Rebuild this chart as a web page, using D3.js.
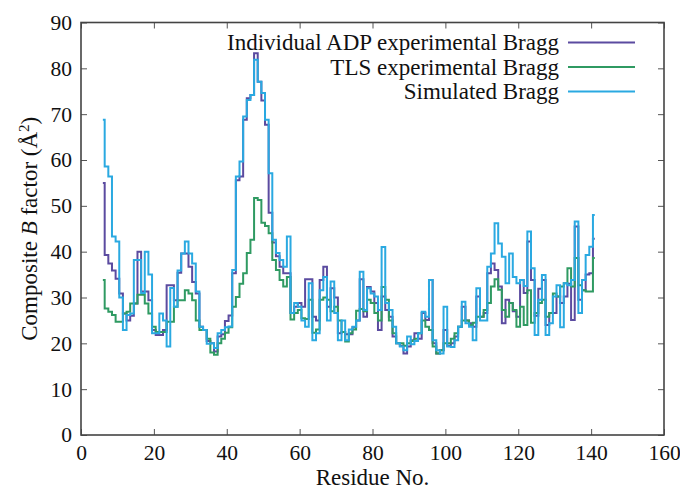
<!DOCTYPE html>
<meta charset="utf-8">
<html>
<head>
    <script src="https://d3js.org/d3.v7.min.js"></script>
    <style>
        body { margin: 0; background: #fff; }
        text { font-family: "Liberation Serif", "DejaVu Serif", serif; fill: #111; }
    </style>
</head>
<body>
    <div id="chart"></div>
    <script>
        // residue numbers 6..141
        var firstResidue = 6;

        // Individual ADP experimental Bragg
        var adpValues = [
            55, 39.3, 37.4, 35.9, 34.1, 30.9, 26.5, 25, 26, 28.7,
            40, 31.3, 31.3, 29.4, 22.9, 21.8, 21.8, 22.9, 32.7, 32.7,
            29.4, 35.4, 39.6, 39.6, 36.7, 33.4, 30.9, 23.6, 22.9, 20.5,
            20, 18.2, 21.5, 22, 24.9, 26.1, 35.3, 55.6, 56.4, 68.8,
            73.5, 74.2, 83.3, 77.1, 73, 67.7, 48.5, 42, 39, 36.7,
            35.3, 35.3, 26.6, 28, 28.8, 28, 34, 34, 25.8, 25,
            33.8, 36.7, 28, 32, 30, 22.2, 22.5, 22, 22, 23.5,
            25, 34, 25.8, 32.3, 31.3, 28.8, 22.9, 30.2, 27.3, 25.8,
            21.5, 20, 19.5, 17.8, 19.3, 20.7, 22.2, 21, 26.6, 25.1,
            33.8, 20, 17.8, 18.5, 22.9, 19.5, 20, 21.5, 23.6, 28,
            25, 24.4, 23.6, 30.2, 25.8, 26.6, 35.3, 37.4, 36, 32.4,
            24.4, 29.5, 28.8, 27, 25.8, 33.8, 31, 42.2, 33.8, 26,
            31.9, 33.8, 24, 26.6, 26.6, 30.2, 28.8, 30.2, 33, 25.1,
            45.5, 29.5, 31.6, 35, 35.3, 42.8
        ];

        // TLS experimental Bragg
        var tlsValues = [
            33.8, 27.6, 26.9, 26.2, 24.7, 24.7, 26.5, 26.9, 28.7, 28.7,
            30.6, 30.6, 28.7, 26.5, 23.6, 22.5, 22.5, 22.5, 24.7, 24.7,
            28, 29.4, 29.4, 31.6, 30.9, 29.4, 25, 22.9, 22.9, 21,
            18, 17.5, 20, 21, 22.3, 23.5, 28, 30.1, 33, 35.3,
            39.7, 42.6, 51.7, 51.3, 46.3, 45.6, 44, 38.2, 36, 33.8,
            32.4, 34.5, 25.2, 26.6, 27.3, 25.5, 25.3, 29.5, 22.3, 23,
            29.5, 30, 29.5, 27, 28, 25, 22.5, 20.4, 22.2, 23,
            27.1, 27.5, 27, 29.5, 28.8, 26.6, 25, 32.3, 29.5, 25,
            22.2, 20, 20, 19.5, 20, 20.5, 21, 22.2, 25, 23.6,
            22.9, 19.3, 17.8, 18.5, 20, 20, 21, 22.2, 23.6, 25,
            25, 24, 24.5, 25.8, 25.8, 27.3, 28.8, 32.4, 34, 31.7,
            27.3, 25.8, 28.8, 27.3, 23.6, 28, 24, 31.6, 24.5, 26.6,
            28.8, 29.5, 25.8, 26.6, 30.9, 30.2, 32.4, 33.1, 36.4, 32.4,
            38.6, 32.7, 31.6, 31.3, 31.3, 38.6
        ];

        // Simulated Bragg
        var simValues = [
            68.8, 58.6, 56.4, 43.3, 42.2, 30, 22.9, 26.2, 26.5, 38.2,
            38.2, 31, 40, 35, 22.2, 22.2, 26.5, 25, 19.3, 32.1,
            28, 35.9, 39.6, 42.2, 39.6, 37.4, 31.3, 23.6, 22.9, 19.9,
            20, 19, 22.2, 22.9, 23.5, 23.7, 36, 56.4, 59.7, 69.5,
            73.1, 74.2, 81.9, 77.1, 74.6, 68.8, 57.1, 42.6, 39.7, 38.2,
            36.7, 43.3, 26.6, 28.8, 28, 25, 23.6, 33.1, 20.7, 22.2,
            31.6, 34.5, 25, 33.5, 26.6, 20.7, 25, 20.7, 23, 23.6,
            25, 35.6, 27.3, 32, 30.9, 30.2, 27.3, 41, 28.8, 27.3,
            23.6, 20, 19.3, 18.5, 21.5, 19.8, 20.5, 22.2, 26.9, 25.8,
            33.8, 20.7, 18.5, 17.8, 28, 19.3, 19.2, 20.7, 23.6, 29.1,
            24.4, 23.6, 20.7, 32, 25, 25, 36.7, 39.6, 46.2, 41.8,
            38.9, 33.1, 39.6, 34.5, 33.1, 33.8, 32.5, 44.4, 36.4, 21.8,
            29.5, 34.9, 21.8, 24.4, 30.2, 32.7, 23.5, 33.1, 32.7, 33.8,
            46.6, 26.6, 33.8, 39.3, 41.1, 48
        ];

        var seriesNames = ["Individual ADP experimental Bragg", "TLS experimental Bragg", "Simulated Bragg"];
        var seriesColors = ["#5b4ba0", "#2f9a62", "#2aa9e1"];
        var xTicks = [0, 20, 40, 60, 80, 100, 120, 140, 160];
        var yTicks = [0, 10, 20, 30, 40, 50, 60, 70, 80, 90];

        var margin = { top: 22.5, right: 16, bottom: 54, left: 81 },
            width = 680 - margin.left - margin.right,
            height = 489 - margin.top - margin.bottom;

        var svg = d3.select("#chart").append("svg")
            .attr("width", 680)
            .attr("height", 489)
            .append("g")
            .attr("transform", "translate(" + margin.left + "," + margin.top + ")");

        var x = d3.scaleLinear().domain([0, 160]).range([0, width]);
        var y = d3.scaleLinear().domain([0, 90]).range([height, 0]);

        function styleAxis(g) {
            g.attr("font-family", "Liberation Serif").attr("font-size", 21.5);
            g.select(".domain").remove();
            g.selectAll(".tick line").attr("stroke", "#555").attr("stroke-width", 1);
            g.selectAll(".tick text").attr("fill", "#111");
        }

        svg.append("g")
            .attr("transform", "translate(0," + height + ")")
            .call(d3.axisBottom(x).tickValues(xTicks).tickSize(-6).tickPadding(10))
            .call(styleAxis);
        svg.append("g")
            .call(d3.axisTop(x).tickValues(xTicks).tickSize(-6).tickFormat(""))
            .call(styleAxis);
        svg.append("g")
            .call(d3.axisLeft(y).tickValues(yTicks).tickSize(-6).tickPadding(9))
            .call(styleAxis);
        svg.append("g")
            .attr("transform", "translate(" + width + ",0)")
            .call(d3.axisRight(y).tickValues(yTicks).tickSize(-6).tickFormat(""))
            .call(styleAxis);

        var line = d3.line()
            .x(function (d, i) { return x(firstResidue + i); })
            .y(function (d) { return y(d); })
            .curve(d3.curveStep);

        [adpValues, tlsValues, simValues].forEach(function (vals, k) {
            svg.append("path")
                .datum(vals)
                .attr("fill", "none")
                .attr("stroke", seriesColors[k])
                .attr("stroke-width", 2)
                .attr("d", line);
        });

        // frame
        svg.append("rect")
            .attr("width", width).attr("height", height)
            .attr("fill", "none").attr("stroke", "#444").attr("stroke-width", 1.6);

        // legend
        var legend = svg.append("g");
        seriesNames.forEach(function (name, k) {
            var ly = 20 + k * 24.5;
            legend.append("text")
                .attr("x", 478).attr("y", ly + 7.5)
                .attr("text-anchor", "end")
                .style("font-size", "23px")
                .text(name);
            legend.append("line")
                .attr("x1", 487).attr("x2", 554)
                .attr("y1", ly).attr("y2", ly)
                .attr("stroke", seriesColors[k]).attr("stroke-width", 2);
        });

        // axis titles
        svg.append("text")
            .attr("x", width / 2).attr("y", height + 50)
            .attr("text-anchor", "middle")
            .style("font-size", "23px")
            .text("Residue No.");

        var yt = svg.append("text")
            .attr("transform", "translate(" + (37 - margin.left) + "," + (height / 2) + ") rotate(-90)")
            .attr("text-anchor", "middle")
            .style("font-size", "23px");
        yt.append("tspan").text("Composite ");
        yt.append("tspan").style("font-style", "italic").text("B");
        yt.append("tspan").text(" factor (Å");
        yt.append("tspan").attr("baseline-shift", "super").style("font-size", "15px").text("2");
        yt.append("tspan").text(")");
    </script>
</body>
</html>
